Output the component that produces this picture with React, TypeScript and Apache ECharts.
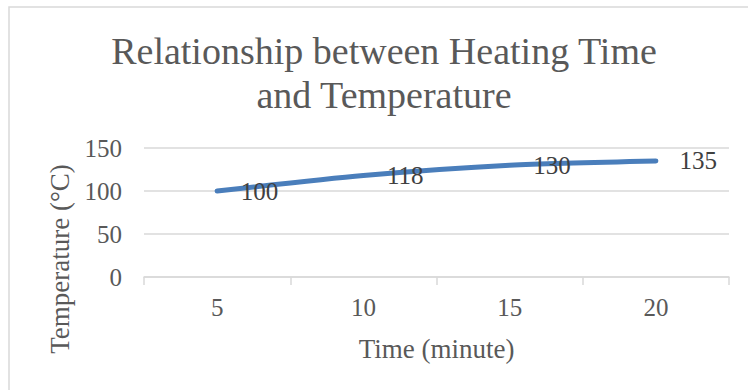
import React, { useEffect, useRef } from "react";
import * as echarts from "echarts";

const titleLines = ["Relationship between Heating Time", "and Temperature"];
const categories = ["5", "10", "15", "20"];
const temperatures = [100, 118, 130, 135];
const yTicks = { min: 0, max: 150, interval: 50 };
const xAxisTitle = "Time (minute)";
const yAxisTitle = "Temperature (°C)";

const FONT = "'Liberation Serif', 'Times New Roman', serif";
const LINE_COLOR = "#4A7EBB";

export default function App() {
  const ref = useRef<HTMLDivElement>(null);
  useEffect(() => {
    if (!ref.current) return;
    const chart = echarts.init(ref.current, undefined, { renderer: "svg" });
    chart.setOption({
      animation: false,
      backgroundColor: "#ffffff",
      textStyle: { fontFamily: FONT },
      grid: { left: 144, right: 19, top: 148, bottom: 113, containLabel: false },
      graphic: [
        {
          type: "rect",
          shape: { x: 9, y: 7, width: 760, height: 400 },
          style: { fill: "none", stroke: "#d9d9d9", lineWidth: 1.5 },
          silent: true,
        },
        {
          type: "text",
          x: 384,
          y: 73,
          style: {
            text: titleLines.join("\n"),
            fontFamily: FONT,
            fontSize: 38,
            lineHeight: 44,
            fill: "#595959",
            textAlign: "center",
            textVerticalAlign: "middle",
          },
        },
        {
          type: "text",
          x: 60,
          y: 259,
          rotation: Math.PI / 2,
          style: {
            text: yAxisTitle,
            fontFamily: FONT,
            fontSize: 27,
            fill: "#595959",
            textAlign: "center",
            textVerticalAlign: "middle",
          },
        },
      ],
      xAxis: {
        type: "category",
        data: categories,
        boundaryGap: true,
        name: xAxisTitle,
        nameLocation: "middle",
        nameGap: 58,
        nameTextStyle: { fontFamily: FONT, fontSize: 27, color: "#595959" },
        axisLine: { lineStyle: { color: "#d9d9d9", width: 1.5 } },
        axisTick: { show: true, length: 8, lineStyle: { color: "#d9d9d9", width: 1.5 } },
        axisLabel: { fontFamily: FONT, fontSize: 25, color: "#595959", margin: 18 },
      },
      yAxis: {
        type: "value",
        min: yTicks.min,
        max: yTicks.max,
        interval: yTicks.interval,
        axisLine: { show: false },
        axisTick: { show: false },
        splitLine: { lineStyle: { color: "#d9d9d9", width: 1.5 } },
        axisLabel: { fontFamily: FONT, fontSize: 25, color: "#595959", margin: 22 },
      },
      series: [
        {
          type: "line",
          data: temperatures,
          smooth: 0.25,
          symbol: "circle",
          symbolSize: 3,
          showSymbol: true,
          itemStyle: { color: LINE_COLOR, borderWidth: 0 },
          lineStyle: { color: LINE_COLOR, width: 5, cap: "round" },
          label: {
            show: true,
            position: "right",
            distance: 22,
            fontFamily: FONT,
            fontSize: 25,
            color: "#404040",
          },
        },
      ],
    });
    return () => chart.dispose();
  }, []);
  return <div ref={ref} style={{ width: 748, height: 390, position: "absolute", left: 0, top: 0 }} />;
}
